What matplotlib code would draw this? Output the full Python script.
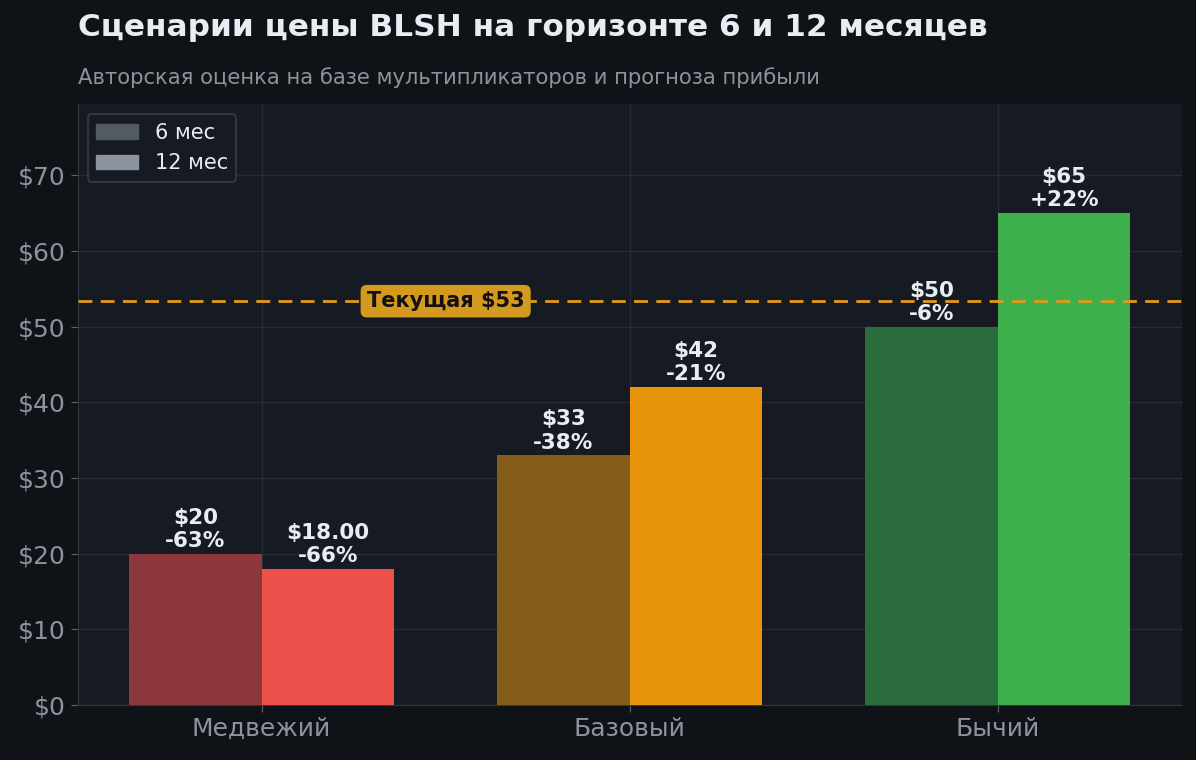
import numpy as np
import matplotlib
matplotlib.use("Agg")
import matplotlib.pyplot as plt

scenarios = ["Медвежий", "Базовый", "Бычий"]
price_6m = [20, 33, 50]
price_12m = [18, 42, 65]
current_price = 53.35
labels_6m = ["$20", "$33", "$50"]
labels_12m = ["$18.00", "$42", "$65"]

colors_6m = ["#8B373B", "#845C17", "#2B6C3C"]
colors_12m = ["#EC504A", "#E8950C", "#3DAF4B"]

BG = "#0F1317"
AX_BG = "#161A22"
TXT = "#E6EDF3"
MUTED = "#8B949E"
GRID = "#262B34"

plt.rcParams["font.family"] = ["DejaVu Sans"]

fig = plt.figure(figsize=(11.96, 7.6), dpi=100, facecolor=BG)
ax = fig.add_axes([77.5 / 1196, 55 / 760, 1104.5 / 1196, 601 / 760])
ax.set_facecolor(AX_BG)

x = np.arange(len(scenarios))
w = 0.36
b6 = ax.bar(x - w / 2, price_6m, w, color=colors_6m, zorder=3)
b12 = ax.bar(x + w / 2, price_12m, w, color=colors_12m, zorder=3)

for bars, vals, labs in [(b6, price_6m, labels_6m), (b12, price_12m, labels_12m)]:
    for r, v, lab in zip(bars, vals, labs):
        pct = (v / current_price - 1) * 100
        ax.text(r.get_x() + r.get_width() / 2, v + 0.35, f"{lab}\n{pct:+.0f}%".replace("+-", "-"),
                ha="center", va="bottom", color=TXT, fontsize=15.5, fontweight="bold",
                linespacing=1.2, zorder=5)

ax.axhline(current_price, color="#E39A1A", lw=2, ls=(0, (5, 3)), zorder=4)
ax.text(0.5, current_price, f"Текущая ${current_price:.0f}", ha="center", va="center",
        fontsize=15, fontweight="bold", color="#111111", zorder=6,
        bbox=dict(boxstyle="round,pad=0.3", fc="#D4991F", ec="none"))

ax.set_xlim(-0.5, 2.5)
ax.set_ylim(0, 79.4)
ax.set_xticks(x)
ax.set_xticklabels(scenarios)
ax.set_yticks(np.arange(0, 80, 10))
ax.set_yticklabels([f"${v}" for v in range(0, 80, 10)])
ax.tick_params(labelsize=18, length=5)
ax.tick_params(axis="x", colors="#5C636C", labelcolor=MUTED)
ax.tick_params(axis="y", colors="#5C636C", labelcolor=MUTED)
ax.grid(True, color=GRID, lw=1, zorder=0)
for s in ["top", "right"]:
    ax.spines[s].set_visible(False)
for s in ["left", "bottom"]:
    ax.spines[s].set_color("#30363D")

h1 = plt.Rectangle((0, 0), 1, 1, color="#545A63")
h2 = plt.Rectangle((0, 0), 1, 1, color="#8B949E")
leg = ax.legend([h1, h2], ["6 мес", "12 мес"], loc="upper left", fontsize=15,
                facecolor=AX_BG, edgecolor="#30363D", labelcolor=TXT, framealpha=1)
leg.get_frame().set_linewidth(1.5)

fig.text(78 / 1196, 1 - 28 / 760, "Сценарии цены BLSH на горизонте 6 и 12 месяцев",
         ha="left", va="center", fontsize=22.4, fontweight="bold", color=TXT)
fig.text(78 / 1196, 1 - 78 / 760, "Авторская оценка на базе мультипликаторов и прогноза прибыли",
         ha="left", va="center", fontsize=15.2, color=MUTED)

fig.savefig("out.png", dpi=100, facecolor=BG)
